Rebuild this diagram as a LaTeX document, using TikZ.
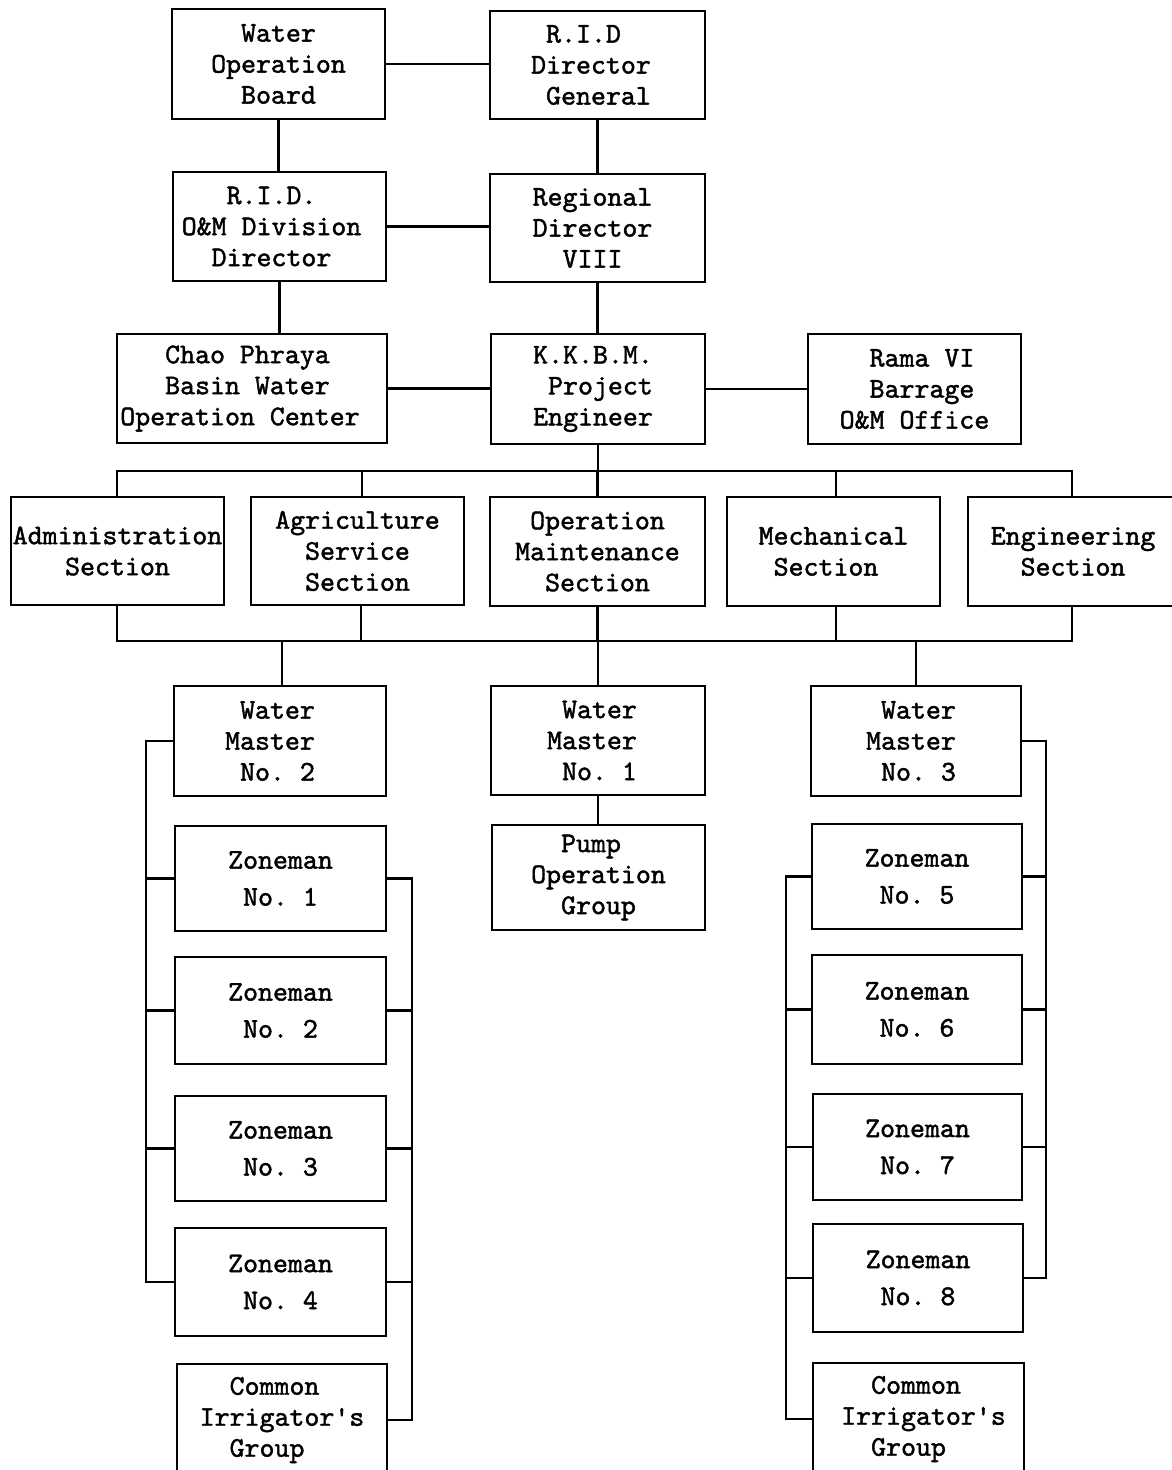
\documentclass[tikz,border=0pt]{standalone}
\usepackage{fontspec}
\newfontfamily\tbmono{lmmono10-regular.otf}[FakeBold=1.5]
\newcommand\tbfont{\tbmono\frenchspacing\fontsize{28.5}{31}\selectfont}
\newcommand\chs{\hphantom{x}}
\newcommand\padw[1]{\rule{#1}{0pt}}
\begin{document}
\begin{tikzpicture}[x=1pt,y=-1pt,
  box/.style={draw, line width=2.4pt, inner sep=0pt, align=center, font=\tbfont},
  boxl/.style={box, align=left},
  lnk/.style={line width=2.4pt, line cap=rect}]
\fill[white] (0,0) rectangle (1171,1470);
\useasboundingbox (0,0) rectangle (1171,1470);

% ---- top levels
\node[boxl, minimum width=213pt, minimum height=110pt] (wob) at (278.5,64)
  {\chs\chs Water\\Operation\\\chs\chs Board};
\node[boxl, minimum width=215pt, minimum height=108pt] (dg) at (597.5,65)
  {\chs R.I.D\\Director\padw{13pt}\\\chs General};
\node[boxl, minimum width=213pt, minimum height=109pt] (omd) at (279.5,226.5)
  {\chs\chs\chs R.I.D.\\O\&M Division\padw{16pt}\\\chs\chs Director};
\node[boxl, minimum width=215pt, minimum height=108pt] (rd) at (597.5,228)
  {Regional\\Director\padw{10pt}\\\chs\chs VIII};
\node[boxl, minimum width=270pt, minimum height=109pt] (cp) at (252,388.5)
  {\chs\chs\chs Chao Phraya\\\chs\chs\chs Basin Water\\Operation Center\padw{24pt}};
\node[boxl, minimum width=214pt, minimum height=110pt] (kkbm) at (598,389)
  {K.K.B.M.\\\chs Project\\Engineer\padw{10pt}};
\node[boxl, minimum width=213pt, minimum height=110pt] (rama) at (914.5,389)
  {\chs\chs Rama VI\\\chs\chs Barrage\\O\&M Office};

% ---- sections
\node[box, minimum width=213pt, minimum height=108pt] (adm) at (117.5,551)
  {Administration\\Section};
\node[boxl, minimum width=213pt, minimum height=108pt] (agr) at (357.5,551)
  {Agriculture\\\chs\chs Service\\\chs\chs Section};
\node[boxl, minimum width=215pt, minimum height=109pt] (opm) at (597.5,551.5)
  {\chs Operation\\Maintenance\\\chs\chs Section};
\node[boxl, minimum width=213pt, minimum height=109pt] (mech) at (833.5,551.5)
  {Mechanical\\\chs Section};
\node[boxl, minimum width=210pt, minimum height=109pt] (eng) at (1073,551.5)
  {Engineering\\\chs\chs Section};

% ---- water masters
\node[boxl, minimum width=212pt, minimum height=110pt] (wm2) at (280,741)
  {\chs Water\\Master\padw{20pt}\\\chs No. 2};
\node[boxl, minimum width=214pt, minimum height=109pt] (wm1) at (598,740.5)
  {\chs Water\\Master\padw{12pt}\\\chs No. 1};
\node[boxl, minimum width=210pt, minimum height=110pt] (wm3) at (916,741)
  {\chs Water\\Master\padw{10pt}\\\chs No. 3};
\node[boxl, minimum width=213pt, minimum height=105pt] (pump) at (598.5,877.5)
  {\chs\chs Pump\\Operation\\\chs\chs Group};

% ---- left column
\node[box, minimum width=211pt, minimum height=105pt] (z1) at (280.5,878.5) {Zoneman\\[6pt]No. 1};
\node[box, minimum width=211pt, minimum height=107pt] (z2) at (280.5,1010.5) {Zoneman\\[6pt]No. 2};
\node[box, minimum width=211pt, minimum height=105pt] (z3) at (280.5,1148.5) {Zoneman\\[6pt]No. 3};
\node[box, minimum width=211pt, minimum height=108pt] (z4) at (280.5,1282) {Zoneman\\[6pt]No. 4};
\node[boxl, minimum width=210pt, minimum height=112pt] (cig1) at (282,1420)
  {\chs\chs Common\\Irrigator's\\\chs\chs Group};

% ---- right column
\node[box, minimum width=210pt, minimum height=105pt] (z5) at (917,876.5) {Zoneman\\[6pt]No. 5};
\node[box, minimum width=210pt, minimum height=109pt] (z6) at (917,1009.5) {Zoneman\\[6pt]No. 6};
\node[box, minimum width=209pt, minimum height=106pt] (z7) at (917.5,1147) {Zoneman\\[6pt]No. 7};
\node[box, minimum width=210pt, minimum height=108pt] (z8) at (918,1278) {Zoneman\\[6pt]No. 8};
\node[boxl, minimum width=211pt, minimum height=112pt] (cig2) at (918.5,1419)
  {\padw{10pt}\chs\chs Common\\\padw{10pt}Irrigator's\\\padw{10pt}\chs\chs Group};

% ---- connectors, top
\draw[lnk] (wob.east) -- (wob.east -| dg.west);
\draw[lnk] (wob.south) -- (wob.south |- omd.north);
\draw[lnk] (dg.south) -- (dg.south |- rd.north);
\draw[lnk] (omd.east) -- (omd.east -| rd.west);
\draw[lnk] (omd.south) -- (omd.south |- cp.north);
\draw[lnk] (rd.south) -- (rd.south |- kkbm.north);
\draw[lnk] (cp.east) -- (cp.east -| kkbm.west);
\draw[lnk] (kkbm.east) -- (kkbm.east -| rama.west);

% ---- upper bus
\coordinate (tbL) at (117,471);
\coordinate (tb2) at (362,471);
\coordinate (tb4) at (836,471);
\coordinate (tbR) at (1072,471);
\draw[lnk] (kkbm.south) -- (kkbm.south |- tbL);
\draw[lnk] (tbL) -- (tbR);
\draw[lnk] (tbL) -- (tbL |- adm.north);
\draw[lnk] (tb2) -- (tb2 |- agr.north);
\draw[lnk] (opm.north |- tbL) -- (opm.north);
\draw[lnk] (tb4) -- (tb4 |- mech.north);
\draw[lnk] (tbR) -- (tbR |- eng.north);

% ---- lower bus
\coordinate (bbL) at (117,641);
\coordinate (bb2) at (361,641);
\coordinate (bb4) at (836,641);
\coordinate (bbR) at (1072,641);
\coordinate (bd2) at (282,641);
\draw[lnk] (bbL) -- (bbR);
\draw[lnk] (adm.south -| bbL) -- (bbL);
\draw[lnk] (bb2 |- agr.south) -- (bb2);
\draw[lnk] (opm.south) -- (opm.south |- bbL);
\draw[lnk] (bb4 |- mech.south) -- (bb4);
\draw[lnk] (bbR |- eng.south) -- (bbR);
\draw[lnk] (bd2) -- (bd2 |- wm2.north);
\draw[lnk] (wm1.north |- bbL) -- (wm1.north);
\draw[lnk] (wm3.north |- bbL) -- (wm3.north);
\draw[lnk] (wm1.south) -- (wm1.south |- pump.north);

% ---- left column rails
\coordinate (lrL) at (146,0);
\coordinate (lrR) at (412,0);
\draw[lnk] (wm2.west) -- (wm2.west -| lrL) -- (lrL |- z4.west) -- (z4.west);
\draw[lnk] (z1.west) -- (z1.west -| lrL);
\draw[lnk] (z2.west) -- (z2.west -| lrL);
\draw[lnk] (z3.west) -- (z3.west -| lrL);
\draw[lnk] (z1.east) -- (z1.east -| lrR) -- (lrR |- cig1.east) -- (cig1.east);
\draw[lnk] (z2.east) -- (z2.east -| lrR);
\draw[lnk] (z3.east) -- (z3.east -| lrR);
\draw[lnk] (z4.east) -- (z4.east -| lrR);

% ---- right column rails
\coordinate (rrL) at (786,0);
\coordinate (rrR) at (1046,0);
\draw[lnk] (wm3.east) -- (wm3.east -| rrR) -- (rrR |- z8.east) -- (z8.east);
\draw[lnk] (z5.east) -- (z5.east -| rrR);
\draw[lnk] (z6.east) -- (z6.east -| rrR);
\draw[lnk] (z7.east) -- (z7.east -| rrR);
\draw[lnk] (z5.west) -- (z5.west -| rrL) -- (rrL |- cig2.west) -- (cig2.west);
\draw[lnk] (z6.west) -- (z6.west -| rrL);
\draw[lnk] (z7.west) -- (z7.west -| rrL);
\draw[lnk] (z8.west) -- (z8.west -| rrL);
\end{tikzpicture}
\end{document}
